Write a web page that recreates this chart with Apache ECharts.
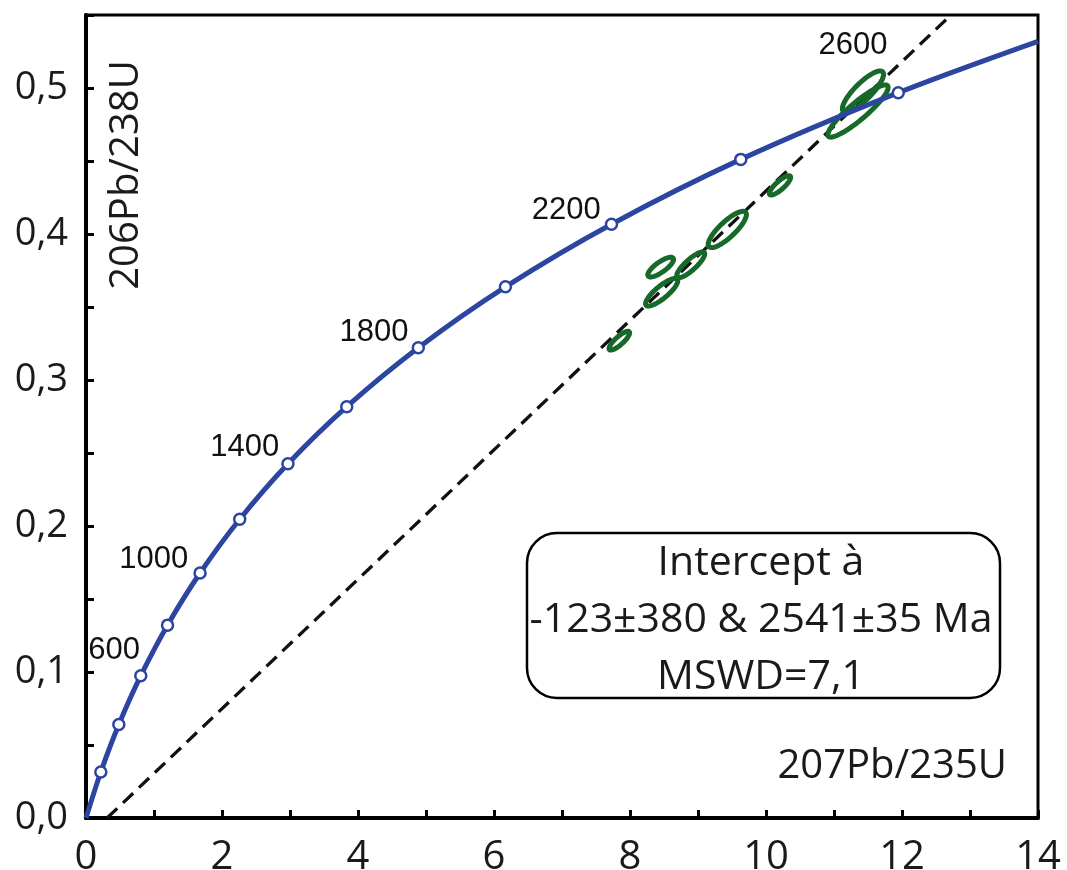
<!DOCTYPE html>
<html>
<head>
<meta charset="utf-8">
<script src="https://cdn.jsdelivr.net/npm/echarts@6/dist/echarts.min.js"></script>
<style>
html,body{margin:0;padding:0;background:#fff;}
#chart{width:1067px;height:870px;}
</style>
</head>
<body>
<div id="chart"></div>
<script>
// Concordia curve (ages in Ma) : 207Pb/235U and 206Pb/238U
const concordiaAge = [0, 200, 400, 600, 800, 1000, 1200, 1400, 1600, 1800, 2000, 2200, 2400, 2600, 2750];
const concordiaX   = [0, 0.2177, 0.4828, 0.8056, 1.1988, 1.6774, 2.2604, 2.9702, 3.8346, 4.8868, 6.1682, 7.7281, 9.6292, 11.945, 14.0];
const concordiaY   = [0, 0.0315, 0.0640, 0.0975, 0.1321, 0.1678, 0.2046, 0.2426, 0.2817, 0.3221, 0.3638, 0.4067, 0.4511, 0.4968, 0.5320];
// ages that get a marker, and ages that get a label
const markerAges = [200, 400, 600, 800, 1000, 1200, 1400, 1600, 1800, 2000, 2200, 2400, 2600];
const labelAges  = [600, 1000, 1400, 1800, 2200, 2600];
// Discordia line (lower and upper ends inside the frame)
const discordiaX = [0.31, 12.72];
const discordiaY = [0.0, 0.55];
// Error ellipses: centre x, centre y, half major axis (dx, dy) in data units, minor/major ratio
const ellCx    = [7.843, 8.466, 8.451, 8.893, 9.431, 10.206, 11.426, 11.353];
const ellCy    = [0.3269, 0.3601, 0.3773, 0.3789, 0.4031, 0.4333, 0.4976, 0.4842];
const ellDx    = [0.146, 0.230, 0.184, 0.199, 0.270, 0.151, 0.290, 0.436];
const ellDy    = [0.0061, 0.0089, 0.0061, 0.0084, 0.0118, 0.0063, 0.0135, 0.0173];
const ellRatio = [0.30, 0.30, 0.33, 0.29, 0.31, 0.30, 0.30, 0.22];
// axes
const xTicks = [0, 2, 4, 6, 8, 10, 12, 14];
const yTicks = [0, 0.1, 0.2, 0.3, 0.4, 0.5];
const xTitle = '207Pb/235U';
const yTitle = '206Pb/238U';
const boxLines = ['Intercept à', '-123±380 & 2541±35 Ma', 'MSWD=7,1'];

const BLUE = '#2c45a0';
const GREEN = '#17692a';

const curveData = concordiaX.map((x, i) => [x, concordiaY[i]]);
const labelOffsets = {600: [11, -25], 1000: [0, -14], 1400: [3, -16], 1800: [2, -15], 2200: [1, -14], 2600: [1, -47]};
const markerData = markerAges.map(a => {
  const i = concordiaAge.indexOf(a);
  const item = {value: [concordiaX[i], concordiaY[i]], name: String(a)};
  if (labelAges.indexOf(a) >= 0) {
    item.label = {show: true, position: 'left', offset: labelOffsets[a], formatter: String(a)};
  }
  return item;
});
const ellipseData = ellCx.map((c, i) => [c, ellCy[i], ellDx[i], ellDy[i], ellRatio[i]]);

const chart = echarts.init(document.getElementById('chart'), null, {renderer: 'canvas'});

function isTick(v, list) { return list.some(t => Math.abs(t - v) < 1e-6); }

const option = {
  backgroundColor: '#fff',
  animation: false,
  grid: {left: 86, right: 29, top: 15, bottom: 52, show: true, borderColor: '#000', borderWidth: 3,
         backgroundColor: 'transparent', containLabel: false, outerBoundsMode: 'none'},
  xAxis: {
    type: 'value', min: 0, max: 14, interval: 1,
    axisLine: {show: true, lineStyle: {color: '#000', width: 4}},
    axisTick: {show: true, inside: true, length: 8, lineStyle: {color: '#000', width: 3}},
    splitLine: {show: false},
    axisLabel: {
      margin: 20, fontSize: 40, fontFamily: 'Open Sans', color: '#1a1a1a',
      formatter: v => isTick(v, xTicks) ? String(Math.round(v)) : ''
    }
  },
  yAxis: {
    type: 'value', min: 0, max: 0.55, interval: 0.05,
    axisLine: {show: true, lineStyle: {color: '#000', width: 4}},
    axisTick: {show: true, inside: true, length: 8, lineStyle: {color: '#000', width: 3}},
    splitLine: {show: false},
    axisLabel: {
      margin: 18, fontSize: 38, fontFamily: 'Open Sans', color: '#1a1a1a',
      formatter: v => isTick(v, yTicks) ? v.toFixed(1).replace('.', ',') : ''
    }
  },
  series: [
    {
      type: 'line', name: 'discordia', data: discordiaX.map((x, i) => [x, discordiaY[i]]),
      showSymbol: false, symbol: 'none', z: 2,
      lineStyle: {color: '#111', width: 3.3, type: [14, 8]}
    },
    {
      type: 'custom', name: 'ellipses', data: ellipseData, z: 3,
      renderItem: function (params, api) {
        const cx = api.value(0), cy = api.value(1), dx = api.value(2), dy = api.value(3), r = api.value(4);
        const c = api.coord([cx, cy]);
        const e = api.coord([cx + dx, cy + dy]);
        const vx = e[0] - c[0], vy = e[1] - c[1];
        const a = Math.sqrt(vx * vx + vy * vy);
        const ux = vx / a, uy = vy / a;
        const nx = -uy, ny = ux;
        const b = a * r;
        const pts = [];
        for (let k = 0; k < 72; k++) {
          const t = k / 72 * Math.PI * 2;
          const ca = Math.cos(t) * a, sb = Math.sin(t) * b;
          pts.push([c[0] + ca * ux + sb * nx, c[1] + ca * uy + sb * ny]);
        }
        return {type: 'polygon', shape: {points: pts}, style: {fill: 'none', stroke: GREEN, lineWidth: 5}};
      }
    },
    {
      type: 'line', name: 'concordia', data: curveData, smooth: 0.3,
      showSymbol: false, symbol: 'none', z: 4,
      lineStyle: {color: BLUE, width: 5}
    },
    {
      type: 'scatter', name: 'ages', data: markerData, z: 5,
      symbol: 'circle', symbolSize: 11,
      itemStyle: {color: '#fff', borderColor: BLUE, borderWidth: 2.5, opacity: 1},
      label: {show: false, fontSize: 31, fontFamily: 'Liberation Sans', color: '#111', distance: 5}
    }
  ],
  graphic: [
    {
      type: 'text', x: 127, y: 175, rotation: Math.PI / 2,
      style: {text: yTitle, fontSize: 40, fontFamily: 'Open Sans', fill: '#1a1a1a', align: 'center', verticalAlign: 'middle'}
    },
    {
      type: 'text', x: 1007, y: 767,
      style: {text: xTitle, fontSize: 40, fontFamily: 'Open Sans', fill: '#1a1a1a', align: 'right', verticalAlign: 'middle'}
    },
    {
      type: 'rect', shape: {x: 527, y: 533, width: 473, height: 165, r: 30},
      style: {fill: '#fff', stroke: '#000', lineWidth: 2.5}, z: 10
    },
    {
      type: 'text', x: 761, y: 620, z: 11,
      style: {text: boxLines.join('\n'), fontSize: 41, lineHeight: 57, fontFamily: 'Open Sans', fill: '#1a1a1a', align: 'center', verticalAlign: 'middle'}
    }
  ]
};
chart.setOption(option);
</script>
</body>
</html>
